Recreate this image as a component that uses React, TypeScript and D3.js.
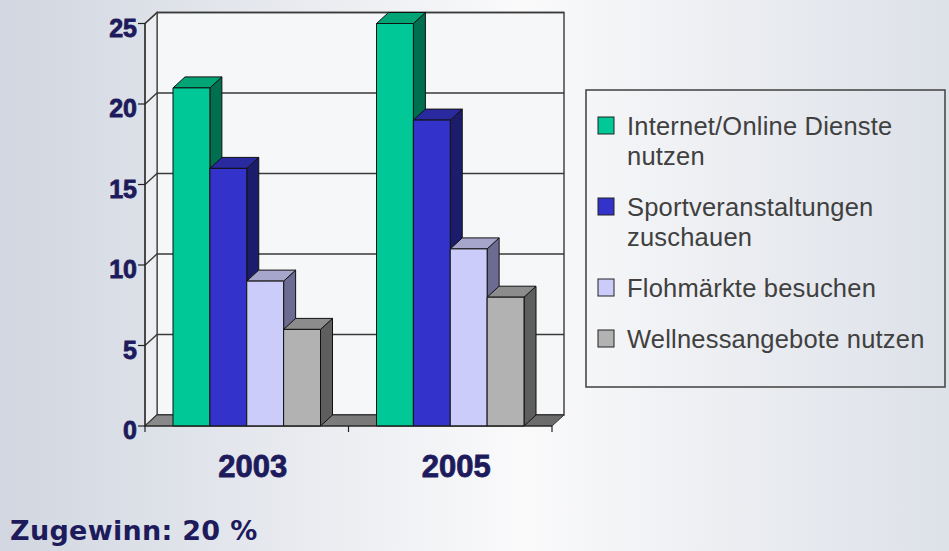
import React, {useEffect} from 'react';
import * as d3 from 'd3';

// chart data
const years = ['2003', '2005'];
const seriesNames = [
  'Internet/Online Dienste nutzen',
  'Sportveranstaltungen zuschauen',
  'Flohmärkte besuchen',
  'Wellnessangebote nutzen',
];
const legendLines = [
  ['Internet/Online Dienste', 'nutzen'],
  ['Sportveranstaltungen', 'zuschauen'],
  ['Flohmärkte besuchen'],
  ['Wellnessangebote nutzen'],
];
const internetValues = [21, 25];
const sportValues = [16, 19];
const flohmarktValues = [9, 11];
const wellnessValues = [6, 8];
const yTicks = [0, 5, 10, 15, 20, 25];
const footnote = 'Zugewinn: 20 %';

const seriesValues = [internetValues, sportValues, flohmarktValues, wellnessValues];

// front / top / side shades per series
const colors = [
  {front: '#00c896', top: '#00a475', side: '#006f4f'},
  {front: '#3333cc', top: '#2a2aa0', side: '#1c1c6c'},
  {front: '#ccccfa', top: '#a6a6cc', side: '#6c6c92'},
  {front: '#b2b2b2', top: '#8c8c8c', side: '#5e5e5e'},
];

const W = 949;
const H = 551;
const DX = 12;   // depth offset of the 3d box
const DY = -11;
const labelColor = '#1d1b5c';

const poly = (pts: [number, number][]) => 'M' + pts.map(p => p.join(',')).join('L') + 'Z';

const App: React.FC = () => {
  useEffect(() => {
    document.body.style.margin = '0';
  }, []);

  const x = d3.scaleBand().domain(years).range([145, 552]);
  const inner = d3.scaleBand().domain(seriesNames).range([28, x.bandwidth() - 28]);
  const y = d3.scaleLinear().domain([0, 25]).range([426, 23.5]);

  const x0 = x.range()[0];
  const x1 = x.range()[1];
  const yb = y(0);
  const yt = y(25);

  const bars: JSX.Element[] = [];
  years.forEach((yr, i) => {
    seriesNames.forEach((s, j) => {
      const v = seriesValues[j][i];
      const bx = x(yr)! + inner(s)!;
      const bw = inner.bandwidth();
      const top = y(v);
      const c = colors[j];
      bars.push(
        <g key={yr + s} stroke="#111" strokeWidth={1} strokeLinejoin="round">
          <path d={poly([[bx + bw, top], [bx + bw + DX, top + DY], [bx + bw + DX, yb + DY], [bx + bw, yb]])} fill={c.side}/>
          <path d={poly([[bx, top], [bx + DX, top + DY], [bx + bw + DX, top + DY], [bx + bw, top]])} fill={c.top}/>
          <rect x={bx} y={top} width={bw} height={yb - top} fill={c.front}/>
        </g>
      );
    });
  });

  // legend layout
  const legendX = 598;
  let baseline = 135;
  const legendItems = legendLines.map((lines, i) => {
    const b = baseline;
    baseline += lines.length * 30 + 21;
    return (
      <g key={seriesNames[i]}>
        <rect x={legendX} y={b - 18} width={16} height={17} fill={colors[i].front} stroke="#222" strokeWidth={1}/>
        <text x={627} y={b} fontFamily="'Liberation Sans', Arial, sans-serif" fontSize={25.5} fill="#404040"
              letterSpacing={0.2}>
          {lines.map((ln, k) => (
            <tspan key={k} x={627} y={b + k * 30}>{ln}</tspan>
          ))}
        </text>
      </g>
    );
  });

  return (
    <svg width={W} height={H} viewBox={`0 0 ${W} ${H}`} style={{display: 'block'}}>
      <defs>
        <linearGradient id="bg" x1="0" y1="0" x2="1" y2="0">
          <stop offset="0%" stopColor="#d1d6e0"/>
          <stop offset="55%" stopColor="#fafafb"/>
          <stop offset="100%" stopColor="#dde1e8"/>
        </linearGradient>
        <linearGradient id="floor" x1="0" y1="0" x2="1" y2="0">
          <stop offset="0%" stopColor="#8a8a8a"/>
          <stop offset="100%" stopColor="#6a6a6a"/>
        </linearGradient>
      </defs>
      <rect width={W} height={H} fill="url(#bg)"/>

      {/* walls */}
      <path d={poly([[x0 + DX, yt + DY], [x1 + DX, yt + DY], [x1 + DX, yb + DY], [x0 + DX, yb + DY]])}
            fill="#f6f7f9" stroke="#444" strokeWidth={1.5}/>
      <path d={poly([[x0, yt], [x0 + DX, yt + DY], [x0 + DX, yb + DY], [x0, yb]])}
            fill="#eceef2" stroke="#444" strokeWidth={1.2}/>

      {/* gridlines */}
      {yTicks.map(t => (
        <path key={t} d={`M${x0},${y(t)}L${x0 + DX},${y(t) + DY}L${x1 + DX},${y(t) + DY}`}
              fill="none" stroke="#3a3a3a" strokeWidth={1.4}/>
      ))}

      {/* floor */}
      <path d={poly([[x0, yb], [x1, yb], [x1 + DX, yb + DY], [x0 + DX, yb + DY]])}
            fill="url(#floor)" stroke="#333" strokeWidth={1}/>

      {bars}

      {/* axes */}
      <line x1={x0} x2={x0} y1={yt} y2={yb} stroke="#222" strokeWidth={1.2}/>
      <line x1={x0} x2={x1} y1={yb} y2={yb} stroke="#222" strokeWidth={1.2}/>
      {yTicks.map(t => (
        <line key={'yt' + t} x1={x0 - 7} x2={x0} y1={y(t)} y2={y(t)} stroke="#222" strokeWidth={1.2}/>
      ))}
      {[...years.map(v => x(v)!), x1].map((p, i) => (
        <line key={'xt' + i} x1={p} x2={p} y1={yb} y2={yb + 6} stroke="#222" strokeWidth={1.2}/>
      ))}

      {yTicks.map(t => (
        <text key={'yl' + t} x={137} y={y(t) + 13} textAnchor="end"
              fontFamily="'Liberation Sans', Arial, sans-serif" fontWeight="bold" fontSize={25} fill={labelColor}
              stroke={labelColor} strokeWidth={0.8}>
          {t}
        </text>
      ))}
      {years.map(yr => (
        <text key={'xl' + yr} x={x(yr)! + x.bandwidth() / 2 + 6} y={477} textAnchor="middle"
              fontFamily="'Liberation Sans', Arial, sans-serif" fontWeight="bold" fontSize={31} fill={labelColor}
              stroke={labelColor} strokeWidth={0.8}>
          {yr}
        </text>
      ))}

      {/* legend */}
      <rect x={586} y={90} width={359} height={297} fill="none" stroke="#4a4a4a" strokeWidth={1.6}/>
      {legendItems}

      <text x={10} y={540} fontFamily="'DejaVu Sans', Verdana, sans-serif" fontWeight="bold" fontSize={27}
            fill={labelColor} letterSpacing={0.3}>
        {footnote}
      </text>
    </svg>
  );
};

export default App;
